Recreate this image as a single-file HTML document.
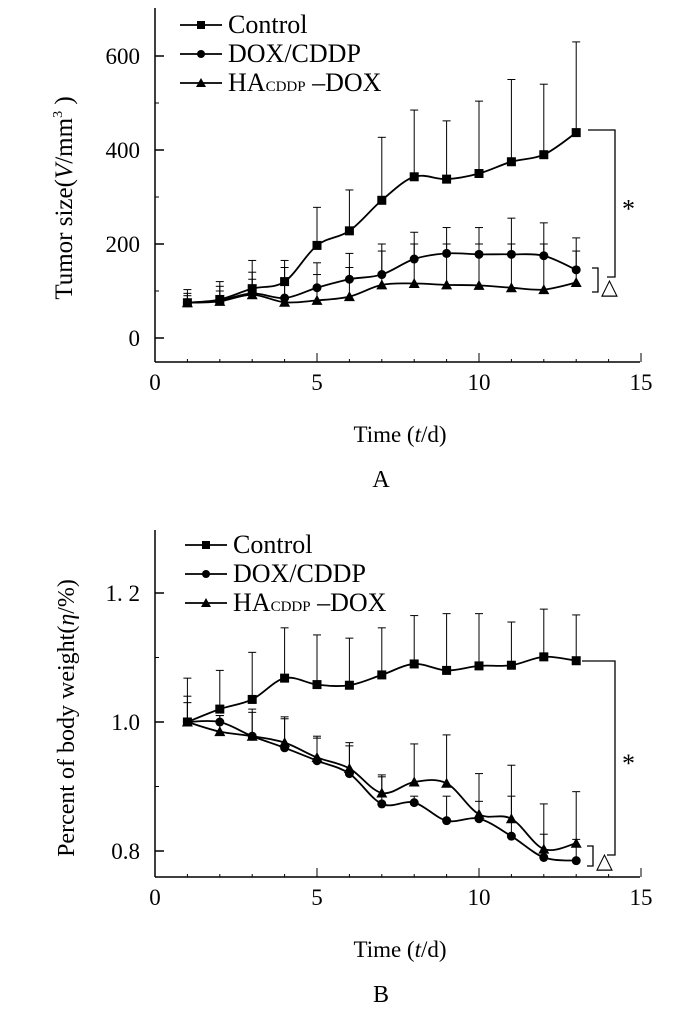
<!DOCTYPE html>
<html><head><meta charset="utf-8"><style>
body{margin:0;background:#fff}
svg{display:block;font-family:"Liberation Serif","Noto Serif CJK SC",serif}
</style></head><body>
<svg id="chart" width="700" height="1022" viewBox="0 0 700 1022" xmlns="http://www.w3.org/2000/svg"></svg>
<script>
const days=[1,2,3,4,5,6,7,8,9,10,11,12,13];
const xTicks=[0,5,10,15];
// Panel A
const aControl=[75,82,105,120,197,228,293,343,338,350,375,390,437];
const aControlErr=[103,120,165,165,278,315,427,485,462,504,550,540,630];
const aDox=[75,80,95,85,107,125,135,168,180,178,178,175,145];
const aDoxErr=[95,110,140,150,160,180,200,225,235,235,255,245,213];
const aHa=[75,78,92,76,80,88,113,116,113,112,107,103,118];
const aHaErr=[90,100,125,120,135,150,185,200,200,200,200,200,185];
const aYTicks=[0,200,400,600];
// Panel B
const bControl=[1.0,1.02,1.035,1.068,1.058,1.057,1.073,1.09,1.08,1.087,1.088,1.101,1.095];
const bControlErr=[1.068,1.08,1.108,1.146,1.135,1.13,1.146,1.165,1.168,1.168,1.155,1.175,1.166];
const bDox=[1.0,1.0,0.978,0.96,0.94,0.92,0.873,0.875,0.847,0.85,0.823,0.79,0.785];
const bDoxErr=[1.04,1.01,1.02,1.008,0.978,0.968,0.915,0.885,0.885,0.877,0.885,0.826,0.818];
const bHa=[1.0,0.985,0.978,0.968,0.945,0.928,0.89,0.907,0.905,0.857,0.85,0.803,0.812];
const bHaErr=[1.03,1.01,1.015,1.005,0.975,0.963,0.918,0.966,0.98,0.92,0.933,0.873,0.892];
const bYTicks=[0.8,1.0,1.2];
const bYLabels=["0.8","1.0","1. 2"];

const NS="http://www.w3.org/2000/svg";
const svg=document.getElementById('chart');
function mk(tag,attrs,parent,name){const e=document.createElementNS(NS,tag);for(const k in attrs)e.setAttribute(k,attrs[k]);


(parent||svg).appendChild(e);return e;}
const xs=d=>155+d*32.4;

function smooth(pts){let d=`M${pts[0][0]},${pts[0][1]}`;for(let i=0;i<pts.length-1;i++){const p0=pts[Math.max(0,i-1)],p1=pts[i],p2=pts[i+1],p3=pts[Math.min(pts.length-1,i+2)];
const c1=[p1[0]+(p2[0]-p0[0])/6,p1[1]+(p2[1]-p0[1])/6],c2=[p2[0]-(p3[0]-p1[0])/6,p2[1]-(p3[1]-p1[1])/6];
d+=` C${c1[0]},${c1[1]} ${c2[0]},${c2[1]} ${p2[0]},${p2[1]}`;}return d;}

function marker(g,type,x,y,s,name){
 if(type==='sq') mk('rect',{x:x-s,y:y-s,width:2*s,height:2*s,fill:'#000'},g,name);
 else if(type==='ci') mk('circle',{cx:x,cy:y,r:s,fill:'#000'},g,name);
 else mk('polygon',{points:`${x},${y-s-1} ${x-s-1},${y+s} ${x+s+1},${y+s}`,fill:'#000'},g,name);
}

function panel(o){
 const g=mk('g',{},svg,o.id);
 const ys=o.ys;
 mk('line',{x1:155,y1:o.top,x2:155,y2:o.axisY,stroke:'#000','stroke-width':1.5},g,'y-axis');
 mk('line',{x1:155,y1:o.axisY,x2:640,y2:o.axisY,stroke:'#000','stroke-width':1.5},g,'x-axis');
 for(let i=1;i<15;i++) mk('line',{x1:xs(i),y1:o.axisY,x2:xs(i),y2:o.axisY-(i%5?3:9),stroke:'#000','stroke-width':1},g,'x-tick');
 mk('line',{x1:xs(15),y1:o.axisY,x2:xs(15),y2:o.axisY-9,stroke:'#000'},g,'x-tick');
 xTicks.forEach(t=>{const tx=mk('text',{x:xs(t),y:o.axisY+28,'font-size':23,'text-anchor':'middle'},g,'x-tick-label');tx.textContent=t;});
 o.yTicks.forEach((t,i)=>{mk('line',{x1:155,y1:ys(t),x2:164,y2:ys(t),stroke:'#000','stroke-width':1.5},g,'y-tick');
  const tx=mk('text',{x:140,y:ys(t)+8,'font-size':23,'text-anchor':'end'},g,'y-tick-label');tx.textContent=o.yLabels[i];});
 o.minor.forEach(t=>mk('line',{x1:155,y1:ys(t),x2:159,y2:ys(t),stroke:'#000'},g,'y-minor-tick'));
 o.series.forEach(s=>{
  days.forEach((d,i)=>{const x=xs(d);mk('line',{x1:x,y1:ys(s.v[i]),x2:x,y2:ys(s.e[i]),stroke:'#000','stroke-width':1},g,'error-bar');
   mk('line',{x1:x-4,y1:ys(s.e[i]),x2:x+4,y2:ys(s.e[i]),stroke:'#000','stroke-width':1},g,'error-cap');});
  mk('path',{d:smooth(days.map((d,i)=>[xs(d),ys(s.v[i])])),fill:'none',stroke:'#000','stroke-width':1.8},g,s.name+'-line');
  days.forEach((d,i)=>marker(g,s.m,xs(d),ys(s.v[i]),4.5,s.name+'-point'));
 });
 const leg=[['sq','Control'],['ci','DOX/CDDP'],['tr','HA']];
 leg.forEach((l,i)=>{const y=o.legY+i*29;mk('line',{x1:o.legX,y1:y,x2:o.legX+42,y2:y,stroke:'#000','stroke-width':1.8},g,'legend-line');
  marker(g,l[0],o.legX+21,y,4,'legend-marker');
  const t=mk('text',{x:o.legX+48,y:y+8,'font-size':26},g,'legend-entry');
  if(l[1]==='HA'){t.innerHTML='HA<tspan font-size="15">CDDP</tspan> –DOX';}else t.textContent=l[1];});
 const b=o.br;
 mk('path',{d:`M${b.x0},${b.yTop} H${b.x1} V${b.yBot} H${b.x1-8}`,fill:'none',stroke:'#000','stroke-width':1.3},g,'significance-bracket');
 const st=mk('text',{x:b.x1+7,y:(b.yTop+b.yBot)/2+14,'font-size':26},g,'significance-star');st.textContent='*';
 mk('path',{d:`M${b.sx},${b.sy0} H${b.sx+6} V${b.sy1} H${b.sx}`,fill:'none',stroke:'#000','stroke-width':1.3},g,'small-bracket');
 const tr=mk('text',{x:b.sx+9,y:b.sy1+2,'font-size':22,'font-family':'DejaVu Sans'},g,'delta-symbol');tr.textContent='△';
 const yt=mk('text',{transform:`translate(${o.ytX},${o.ytY}) rotate(-90)`,'font-size':o.ytSize,'text-anchor':'middle'},g,'y-axis-title');yt.innerHTML=o.ytitle;
 const xt=mk('text',{x:400,y:o.axisY+80,'font-size':23,'text-anchor':'middle'},g,'x-axis-title');xt.innerHTML='Time (<tspan font-style="italic">t</tspan>/d)';
 const pl=mk('text',{x:381,y:o.axisY+125,'font-size':24,'text-anchor':'middle'},g,'panel-label');pl.textContent=o.label;
}

panel({id:'panel-a',top:8,axisY:362,ys:v=>338-v*0.47,yTicks:aYTicks,yLabels:['0','200','400','600'],minor:[100,300,500],
 series:[{name:'control',v:aControl,e:aControlErr,m:'sq'},{name:'dox-cddp',v:aDox,e:aDoxErr,m:'ci'},{name:'ha-cddp-dox',v:aHa,e:aHaErr,m:'tr'}],
 legX:180,legY:25,br:{x0:588,x1:615,yTop:130,yBot:277,sx:592,sy0:268,sy1:292},
 ytitle:'Tumor size(<tspan font-style="italic">V</tspan>/mm<tspan font-size="14" dy="-10">3</tspan><tspan dy="10"> )</tspan>',ytX:72,ytY:198,ytSize:25,label:'A'});

panel({id:'panel-b',top:530,axisY:877,ys:v=>722-(v-1)*645,yTicks:bYTicks,yLabels:bYLabels,minor:[0.9,1.1],
 series:[{name:'control',v:bControl,e:bControlErr,m:'sq'},{name:'dox-cddp',v:bDox,e:bDoxErr,m:'ci'},{name:'ha-cddp-dox',v:bHa,e:bHaErr,m:'tr'}],
 legX:185,legY:545,br:{x0:582,x1:615,yTop:661,yBot:855,sx:587,sy0:846,sy1:866},
 ytitle:'Percent of body weight(<tspan font-style="italic">η</tspan>/%)',ytX:74,ytY:718,ytSize:24,label:'B'});
</script>
</body></html>
